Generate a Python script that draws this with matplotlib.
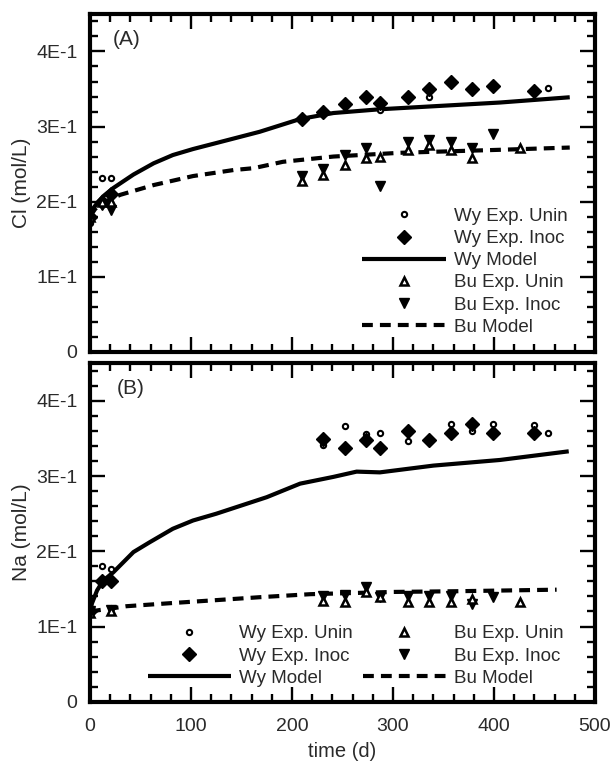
import matplotlib.pyplot as plt
from matplotlib.ticker import MultipleLocator, FuncFormatter

plt.rcParams['font.family'] = ['Liberation Sans', 'DejaVu Sans']

# --- panel A: Cl ---
cl_wy_unin_t = [0, 12, 21, 210, 231, 252, 273, 287, 315, 336, 357, 378, 399, 440, 453]
cl_wy_unin = [0.171, 0.232, 0.232, 0.308, 0.32, 0.33, 0.34, 0.322, 0.34, 0.34, 0.36, 0.35, 0.357, 0.348, 0.351]
cl_wy_inoc_t = [0, 12, 21, 210, 231, 252, 273, 287, 315, 336, 357, 378, 399, 440]
cl_wy_inoc = [0.18, 0.20, 0.21, 0.31, 0.32, 0.33, 0.34, 0.331, 0.34, 0.35, 0.36, 0.35, 0.354, 0.348]
cl_bu_unin_t = [0, 12, 21, 210, 231, 252, 273, 287, 315, 336, 357, 378, 426]
cl_bu_unin = [0.18, 0.20, 0.20, 0.227, 0.236, 0.249, 0.258, 0.259, 0.269, 0.276, 0.269, 0.258, 0.272]
cl_bu_inoc_t = [0, 12, 21, 210, 231, 252, 273, 287, 315, 336, 357, 378, 399]
cl_bu_inoc = [0.175, 0.195, 0.189, 0.234, 0.243, 0.262, 0.271, 0.221, 0.28, 0.282, 0.28, 0.271, 0.29]
cl_wy_model_t = [0, 2, 6, 13, 23, 43, 63, 82, 102, 125, 168, 208, 241, 287, 340, 406, 475]
cl_wy_model = [0.182, 0.189, 0.196, 0.207, 0.218, 0.236, 0.251, 0.262, 0.270, 0.278, 0.293, 0.310, 0.318,
               0.323, 0.327, 0.332, 0.339]
cl_bu_model_t = [0, 5, 12, 20, 30, 63, 102, 142, 162, 191, 241, 307, 406, 475]
cl_bu_model = [0.18, 0.19, 0.198, 0.203, 0.209, 0.222, 0.234, 0.242, 0.2445, 0.253, 0.26, 0.265, 0.269, 0.272]

# --- panel B: Na ---
na_wy_unin_t = [0, 12, 21, 231, 252, 273, 287, 315, 336, 357, 378, 399, 440, 453]
na_wy_unin = [0.12, 0.18, 0.177, 0.342, 0.366, 0.356, 0.357, 0.347, 0.35, 0.369, 0.36, 0.369, 0.368, 0.358]
na_wy_inoc_t = [0, 12, 21, 231, 252, 273, 287, 315, 336, 357, 378, 399, 440]
na_wy_inoc = [0.12, 0.161, 0.16, 0.35, 0.338, 0.348, 0.338, 0.36, 0.348, 0.358, 0.369, 0.357, 0.358]
na_bu_unin_t = [0, 21, 231, 252, 273, 287, 315, 336, 357, 378, 426]
na_bu_unin = [0.118, 0.12, 0.134, 0.132, 0.146, 0.139, 0.132, 0.132, 0.133, 0.137, 0.133]
na_bu_inoc_t = [0, 21, 231, 252, 273, 287, 315, 336, 357, 378, 399]
na_bu_inoc = [0.12, 0.122, 0.141, 0.142, 0.153, 0.139, 0.14, 0.14, 0.14, 0.13, 0.139]
na_wy_model_t = [0, 2, 7, 13, 23, 43, 59, 82, 102, 125, 175, 208, 241, 264, 287, 340, 406, 474]
na_wy_model = [0.12, 0.131, 0.148, 0.161, 0.172, 0.199, 0.212, 0.230, 0.241, 0.25, 0.272, 0.29, 0.299,
               0.306, 0.305, 0.314, 0.3215, 0.333]
na_bu_model_t = [0, 10, 21, 36, 79, 135, 168, 218, 300, 366, 462]
na_bu_model = [0.12, 0.122, 0.124, 0.127, 0.131, 0.136, 0.139, 0.143, 0.146, 0.147, 0.149]

labels = ['Wy Exp. Unin', 'Wy Exp. Inoc', 'Wy Model', 'Bu Exp. Unin', 'Bu Exp. Inoc', 'Bu Model']
txt = '#2a2a2a'


def ylab(v, pos):
    if v == 0:
        return '0'
    return '%dE-1' % round(v * 10)


def draw(ax, wu_t, wu, wi_t, wi, bu_t, bu, bi_t, bi, wm_t, wm, bm_t, bm):
    h_wm, = ax.plot(wm_t, wm, color='black', lw=3, solid_capstyle='butt')
    h_bm, = ax.plot(bm_t, bm, color='black', lw=3, dashes=(2.6, 1.7))
    h_wu, = ax.plot(wu_t, wu, 'o', ms=3.8, mfc='white', mec='black', mew=1.5, ls='none')
    h_wi, = ax.plot(wi_t, wi, 'D', ms=7, color='black', mec='black', ls='none')
    h_bi, = ax.plot(bi_t, bi, 'v', ms=7, color='black', ls='none')
    h_bu, = ax.plot(bu_t, bu, '^', ms=6.3, mfc='white', mec='black', mew=1.8, ls='none')
    ax.set_xlim(0, 500)
    ax.set_ylim(0, 0.45)
    ax.xaxis.set_major_locator(MultipleLocator(100))
    ax.xaxis.set_minor_locator(MultipleLocator(20))
    ax.yaxis.set_major_locator(MultipleLocator(0.1))
    ax.yaxis.set_minor_locator(MultipleLocator(0.02))
    ax.yaxis.set_major_formatter(FuncFormatter(ylab))
    ax.tick_params(which='both', direction='in', top=True, right=True, width=1.7,
                   labelsize=14, labelcolor=txt, pad=9)
    ax.tick_params(axis='x', pad=12)
    ax.tick_params(which='major', length=10.5)
    ax.tick_params(which='minor', length=5.5)
    for s in ax.spines.values():
        s.set_linewidth(3)
    return [h_wu, h_wi, h_wm, h_bu, h_bi, h_bm]


fig = plt.figure(figsize=(6.11, 7.67), dpi=100)
ax1 = fig.add_axes([0.1473, 0.5415, 0.8265, 0.4403])
ax2 = fig.add_axes([0.1473, 0.0851, 0.8265, 0.4412])

hA = draw(ax1, cl_wy_unin_t, cl_wy_unin, cl_wy_inoc_t, cl_wy_inoc, cl_bu_unin_t, cl_bu_unin,
          cl_bu_inoc_t, cl_bu_inoc, cl_wy_model_t, cl_wy_model, cl_bu_model_t, cl_bu_model)
hB = draw(ax2, na_wy_unin_t, na_wy_unin, na_wy_inoc_t, na_wy_inoc, na_bu_unin_t, na_bu_unin,
          na_bu_inoc_t, na_bu_inoc, na_wy_model_t, na_wy_model, na_bu_model_t, na_bu_model)

ax1.tick_params(labelbottom=False)
ax1.set_ylabel('Cl (mol/L)', fontsize=15, color=txt, labelpad=4)
ax2.set_ylabel('Na (mol/L)', fontsize=15, color=txt, labelpad=4)
ax2.set_xlabel('time (d)', fontsize=14.5, color=txt, labelpad=5)

ax1.text(0.045, 0.923, '(A)', transform=ax1.transAxes, fontsize=15, color=txt, va='center')
ax2.text(0.053, 0.927, '(B)', transform=ax2.transAxes, fontsize=15, color=txt, va='center')

ax1.legend(hA, labels, loc='upper left', bbox_to_anchor=(0.538, 0.426), frameon=False,
           fontsize=13.5, labelcolor=txt, handlelength=4.5, handletextpad=0.45, labelspacing=0.27,
           borderpad=0, borderaxespad=0, numpoints=1)
ax2.legend(hB, labels, loc='upper left', bbox_to_anchor=(0.115, 0.226), frameon=False, ncol=2,
           fontsize=13.5, labelcolor=txt, handlelength=4.4, handletextpad=0.45, labelspacing=0.27,
           columnspacing=0.55, borderpad=0, borderaxespad=0, numpoints=1)

fig.savefig('out.png', dpi=100)
